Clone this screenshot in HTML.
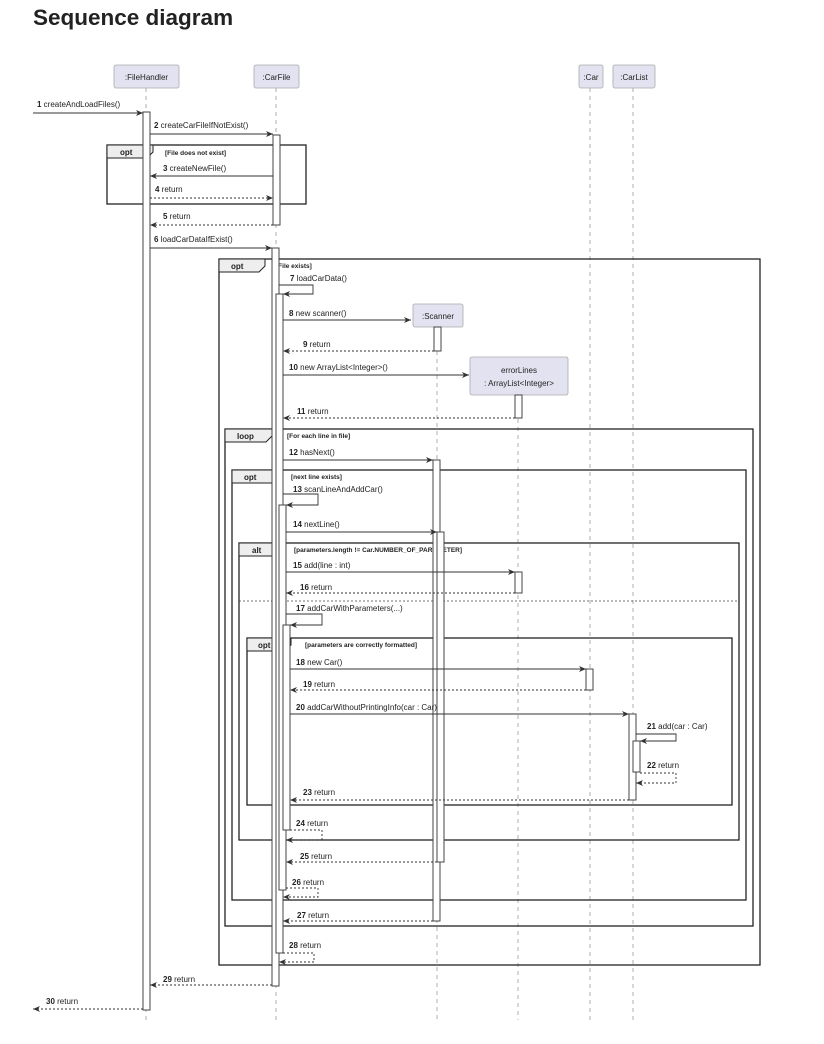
<!DOCTYPE html>
<html><head><meta charset="utf-8"><style>
html,body{margin:0;padding:0;background:#fff;width:824px;height:1044px;overflow:hidden}
svg{display:block}
text{font-family:"Liberation Sans",sans-serif;fill:#222}
.m{font-size:8px}
.g{font-size:6.5px;font-weight:bold}
.t{font-size:8px;font-weight:bold}
.ll{stroke:#999;stroke-width:0.8;stroke-dasharray:4 4}
.a{fill:#fff;stroke:#444;stroke-width:1}
.p{fill:#e2e2f0;stroke:#aaa;stroke-width:0.8}
.s{stroke:#333;stroke-width:0.9;fill:none}
.d{stroke:#333;stroke-width:0.9;fill:none;stroke-dasharray:2 2}
.f{fill:none;stroke:#222;stroke-width:1.3}
</style></head><body>
<svg width="824" height="1044" viewBox="0 0 824 1044" xmlns="http://www.w3.org/2000/svg">
<defs><marker id="ar" markerWidth="8" markerHeight="8" refX="7" refY="4" orient="auto" markerUnits="userSpaceOnUse"><path d="M0,1 L7,4 L0,7 L2,4 Z" fill="#333"/></marker></defs>
<text x="33" y="25" style="font-size:22.5px;font-weight:bold;fill:#222">Sequence diagram</text>

<line class="ll" x1="146" y1="88" x2="146" y2="1020"/>
<line class="ll" x1="276" y1="88" x2="276" y2="1020"/>
<line class="ll" x1="437" y1="327" x2="437" y2="1020"/>
<line class="ll" x1="518" y1="395" x2="518" y2="1020"/>
<line class="ll" x1="590" y1="88" x2="590" y2="1020"/>
<line class="ll" x1="633" y1="88" x2="633" y2="1020"/>

<rect class="p" x="114" y="65" width="65" height="23" rx="2"/><text class="m" x="146.5" y="80" text-anchor="middle">:FileHandler</text>
<rect class="p" x="254" y="65" width="45" height="23" rx="2"/><text class="m" x="276.5" y="80" text-anchor="middle">:CarFile</text>
<rect class="p" x="579" y="65" width="24" height="23" rx="2"/><text class="m" x="591" y="80" text-anchor="middle">:Car</text>
<rect class="p" x="613" y="65" width="42" height="23" rx="2"/><text class="m" x="634" y="80" text-anchor="middle">:CarList</text>
<rect class="p" x="413" y="304" width="50" height="23" rx="2"/><text class="m" x="438" y="319" text-anchor="middle">:Scanner</text>
<rect class="p" x="470" y="357" width="98" height="38" rx="2"/><text class="m" x="519" y="373" text-anchor="middle">errorLines</text><text class="m" x="519" y="386" text-anchor="middle">: ArrayList&lt;Integer&gt;</text>

<g>
<rect class="f" x="107" y="145" width="199" height="59"/>
<path d="M107,145 H153 V152 L147,158 H107 Z" fill="#eee" stroke="#222" stroke-width="1"/><text class="t" x="120" y="155">opt</text>
<text class="g" x="165" y="155">[File does not exist]</text>

<rect class="f" x="219" y="259" width="541" height="706"/>
<path d="M219,259 H265 V266 L259,272 H219 Z" fill="#eee" stroke="#222" stroke-width="1"/><text class="t" x="231" y="269">opt</text>
<text class="g" x="276" y="268">[File exists]</text>

<rect class="f" x="225" y="429" width="528" height="497"/>
<path d="M225,429 H272 V436 L266,442 H225 Z" fill="#eee" stroke="#222" stroke-width="1"/><text class="t" x="237" y="439">loop</text>
<text class="g" x="287" y="438">[For each line in file]</text>

<rect class="f" x="232" y="470" width="514" height="430"/>
<path d="M232,470 H278 V477 L272,483 H232 Z" fill="#eee" stroke="#222" stroke-width="1"/><text class="t" x="244" y="480">opt</text>
<text class="g" x="291" y="479">[next line exists]</text>

<rect class="f" x="239" y="543" width="500" height="297"/>
<path d="M239,543 H284 V550 L278,556 H239 Z" fill="#eee" stroke="#222" stroke-width="1"/><text class="t" x="252" y="553">alt</text>
<text class="g" x="294" y="552">[parameters.length != Car.NUMBER_OF_PARAMETER]</text>
<line x1="239" y1="601" x2="739" y2="601" stroke="#444" stroke-width="0.8" stroke-dasharray="2 2"/>

<rect class="f" x="247" y="638" width="485" height="167"/>
<path d="M247,638 H291 V645 L285,651 H247 Z" fill="#eee" stroke="#222" stroke-width="1"/><text class="t" x="258" y="648">opt</text>
<text class="g" x="305" y="647">[parameters are correctly formatted]</text>
</g>

<rect class="a" x="143" y="112" width="7" height="898"/>
<rect class="a" x="273" y="135" width="7" height="90"/>
<rect class="a" x="272" y="248" width="7" height="738"/>
<rect class="a" x="276" y="294" width="7" height="659"/>
<rect class="a" x="279" y="505" width="7" height="385"/>
<rect class="a" x="283" y="625" width="7" height="205"/>
<rect class="a" x="434" y="327" width="7" height="24"/>
<rect class="a" x="433" y="460" width="7" height="461"/>
<rect class="a" x="437" y="532" width="7" height="330"/>
<rect class="a" x="515" y="395" width="7" height="23"/>
<rect class="a" x="515" y="572" width="7" height="21"/>
<rect class="a" x="586" y="669" width="7" height="21"/>
<rect class="a" x="629" y="714" width="7" height="86"/>
<rect class="a" x="633" y="741" width="7" height="31"/>

<g>
<line class="s" x1="33" y1="113" x2="143" y2="113" marker-end="url(#ar)"/><text class="m" x="37" y="107"><tspan font-weight="bold">1</tspan> createAndLoadFiles()</text>
<line class="s" x1="150" y1="134" x2="273" y2="134" marker-end="url(#ar)"/><text class="m" x="154" y="128"><tspan font-weight="bold">2</tspan> createCarFileIfNotExist()</text>
<line class="s" x1="273" y1="176" x2="150" y2="176" marker-end="url(#ar)"/><text class="m" x="163" y="171"><tspan font-weight="bold">3</tspan> createNewFile()</text>
<line class="d" x1="150" y1="198" x2="273" y2="198" marker-end="url(#ar)"/><text class="m" x="155" y="192"><tspan font-weight="bold">4</tspan> return</text>
<line class="d" x1="273" y1="225" x2="150" y2="225" marker-end="url(#ar)"/><text class="m" x="163" y="219"><tspan font-weight="bold">5</tspan> return</text>
<line class="s" x1="150" y1="248" x2="272" y2="248" marker-end="url(#ar)"/><text class="m" x="154" y="242"><tspan font-weight="bold">6</tspan> loadCarDataIfExist()</text>
<polyline class="s" points="279,285 313,285 313,294 283,294" marker-end="url(#ar)"/><text class="m" x="290" y="281"><tspan font-weight="bold">7</tspan> loadCarData()</text>
<line class="s" x1="283" y1="320" x2="411" y2="320" marker-end="url(#ar)"/><text class="m" x="289" y="316"><tspan font-weight="bold">8</tspan> new scanner()</text>
<line class="d" x1="434" y1="351" x2="283" y2="351" marker-end="url(#ar)"/><text class="m" x="303" y="347"><tspan font-weight="bold">9</tspan> return</text>
<line class="s" x1="283" y1="375" x2="469" y2="375" marker-end="url(#ar)"/><text class="m" x="289" y="370"><tspan font-weight="bold">10</tspan> new ArrayList&lt;Integer&gt;()</text>
<line class="d" x1="515" y1="418" x2="283" y2="418" marker-end="url(#ar)"/><text class="m" x="297" y="414"><tspan font-weight="bold">11</tspan> return</text>
<line class="s" x1="283" y1="460" x2="433" y2="460" marker-end="url(#ar)"/><text class="m" x="289" y="455"><tspan font-weight="bold">12</tspan> hasNext()</text>
<polyline class="s" points="283,494 318,494 318,505 286,505" marker-end="url(#ar)"/><text class="m" x="293" y="492"><tspan font-weight="bold">13</tspan> scanLineAndAddCar()</text>
<line class="s" x1="286" y1="532" x2="437" y2="532" marker-end="url(#ar)"/><text class="m" x="293" y="527"><tspan font-weight="bold">14</tspan> nextLine()</text>
<line class="s" x1="286" y1="572" x2="515" y2="572" marker-end="url(#ar)"/><text class="m" x="293" y="568"><tspan font-weight="bold">15</tspan> add(line : int)</text>
<line class="d" x1="515" y1="593" x2="286" y2="593" marker-end="url(#ar)"/><text class="m" x="300" y="590"><tspan font-weight="bold">16</tspan> return</text>
<polyline class="s" points="286,614 322,614 322,625 290,625" marker-end="url(#ar)"/><text class="m" x="296" y="611"><tspan font-weight="bold">17</tspan> addCarWithParameters(...)</text>
<line class="s" x1="290" y1="669" x2="586" y2="669" marker-end="url(#ar)"/><text class="m" x="296" y="665"><tspan font-weight="bold">18</tspan> new Car()</text>
<line class="d" x1="586" y1="690" x2="290" y2="690" marker-end="url(#ar)"/><text class="m" x="303" y="687"><tspan font-weight="bold">19</tspan> return</text>
<line class="s" x1="290" y1="714" x2="629" y2="714" marker-end="url(#ar)"/><text class="m" x="296" y="710"><tspan font-weight="bold">20</tspan> addCarWithoutPrintingInfo(car : Car)</text>
<polyline class="s" points="636,734 676,734 676,741 640,741" marker-end="url(#ar)"/><text class="m" x="647" y="729"><tspan font-weight="bold">21</tspan> add(car : Car)</text>
<polyline class="d" points="640,773 676,773 676,783 636,783" marker-end="url(#ar)"/><text class="m" x="647" y="768"><tspan font-weight="bold">22</tspan> return</text>
<line class="d" x1="629" y1="800" x2="290" y2="800" marker-end="url(#ar)"/><text class="m" x="303" y="795"><tspan font-weight="bold">23</tspan> return</text>
<polyline class="d" points="290,830 322,830 322,840 286,840" marker-end="url(#ar)"/><text class="m" x="296" y="826"><tspan font-weight="bold">24</tspan> return</text>
<line class="d" x1="437" y1="862" x2="286" y2="862" marker-end="url(#ar)"/><text class="m" x="300" y="859"><tspan font-weight="bold">25</tspan> return</text>
<polyline class="d" points="286,888 318,888 318,897 283,897" marker-end="url(#ar)"/><text class="m" x="292" y="885"><tspan font-weight="bold">26</tspan> return</text>
<line class="d" x1="433" y1="921" x2="283" y2="921" marker-end="url(#ar)"/><text class="m" x="297" y="918"><tspan font-weight="bold">27</tspan> return</text>
<polyline class="d" points="283,953 314,953 314,962 279,962" marker-end="url(#ar)"/><text class="m" x="289" y="948"><tspan font-weight="bold">28</tspan> return</text>
<line class="d" x1="272" y1="985" x2="150" y2="985" marker-end="url(#ar)"/><text class="m" x="163" y="982"><tspan font-weight="bold">29</tspan> return</text>
<line class="d" x1="143" y1="1009" x2="33" y2="1009" marker-end="url(#ar)"/><text class="m" x="46" y="1004"><tspan font-weight="bold">30</tspan> return</text>
</g>
</svg>
</body></html>
